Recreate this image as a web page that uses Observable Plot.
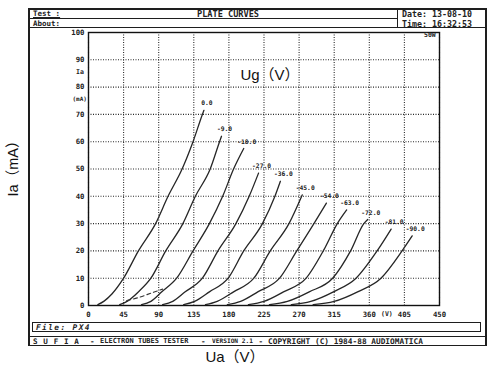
<!DOCTYPE html>
<html><head><meta charset="utf-8">
<script src="https://cdn.jsdelivr.net/npm/d3@7"></script>
<script src="https://cdn.jsdelivr.net/npm/@observablehq/plot@0.6"></script>
<style>
body{margin:0;background:#fff;}
#wrap{position:relative;width:500px;height:373px;overflow:hidden;background:#fff;}
#wrap svg{position:absolute;left:0;top:0;}
.t{position:absolute;font-family:"DejaVu Sans Mono",monospace;font-weight:bold;color:#222;white-space:pre;line-height:1;}
.ln{position:absolute;background:#1e1e1e;}
.big{position:absolute;font-family:"Liberation Sans","Noto Sans CJK SC",sans-serif;font-size:15px;color:#111;white-space:pre;line-height:1;}
</style></head><body><div id="wrap"></div>
<script>
// ---- data ----
const uaTicks = [0, 45, 90, 135, 180, 225, 270, 315, 360, 405, 450];
const iaTicks = [0, 10, 20, 30, 40, 50, 60, 70, 80, 90, 100];
const gridLabels = ["0.0", "-9.0", "-18.0", "-27.0", "-36.0", "-45.0", "-54.0", "-63.0", "-72.0", "-81.0", "-90.0"];
// [Ua (V), Ia (mA)] points for each grid voltage
const ug0   = [[12,0.3],[20,1.6],[30,4.2],[45,10],[64,20],[86,30],[102,40],[120,50],[134,60],[146,70],[148,71.5]];
const ug9   = [[40,0.3],[50,1.6],[64,5],[80,10],[99,20],[121,30],[137,40],[156,50],[168,60],[170.5,62]];
const ug18  = [[68,0.3],[80,1.5],[94,5],[113,10],[134,20],[155,30],[172,40],[186,50],[199,57.5]];
const ug27  = [[95,0.3],[108,1.5],[124,5],[146,10],[166,20],[189,30],[206,40],[218,48.5]];
const ug36  = [[122,0.3],[136,1.5],[155,5],[179,10],[199,20],[223,30],[239,40],[246,45.5]];
const ug45  = [[150,0.3],[165,1.5],[186,5],[212,10],[233,20],[257,30],[274,40.5]];
const ug54  = [[178,0.3],[195,1.5],[217,5],[245,10],[267,20],[289,30],[305,37.5]];
const ug63  = [[205,0.3],[225,1.5],[250,5],[279,10],[301,20],[319,30],[331,35]];
const ug72  = [[232,0.3],[255,1.5],[283,5],[313,10],[336,20],[353,30],[358,31.5]];
const ug81  = [[260,0.3],[285,1.5],[314,5],[343,10],[370,20],[388,28]];
const ug90  = [[288,0.3],[315,1.5],[345,5],[375,10],[402,20],[415,25.5]];
const dashedTrace = [[49,1.8],[65,3],[80,4.5],[95,6]];

const series = [ug0, ug9, ug18, ug27, ug36, ug45, ug54, ug63, ug72, ug81, ug90];
const rows = series.flatMap((pts, i) => pts.map(([ua, ia]) => ({ua, ia, ug: gridLabels[i]})));
const ends = series.map((pts, i) => ({ua: pts[pts.length-1][0], ia: pts[pts.length-1][1], ug: gridLabels[i]}));
const dashRows = dashedTrace.map(([ua, ia]) => ({ua, ia}));

const mono = "DejaVu Sans Mono, monospace";
const chart = Plot.plot({
  width: 500, height: 373,
  marginLeft: 88, marginRight: 61, marginTop: 32, marginBottom: 68,
  style: {background: "transparent", fontFamily: mono, fontSize: "7.3px", fontWeight: "bold", color: "#222"},
  x: {domain: [0, 450], ticks: uaTicks, tickSize: 0, tickPadding: 6, label: null},
  y: {domain: [0, 100], ticks: iaTicks, tickSize: 0, tickPadding: 4, label: null},
  marks: [
    Plot.ruleX(uaTicks, {stroke: "#2a2a2a", strokeDasharray: "1,1.5", strokeWidth: 1.1}),
    Plot.ruleY(iaTicks, {stroke: "#2a2a2a", strokeDasharray: "1,1.5", strokeWidth: 1.1}),
    Plot.frame({stroke: "#111", strokeWidth: 1.4}),
    Plot.line(rows, {x: "ua", y: "ia", z: "ug", curve: "monotone-x", stroke: "#262626", strokeWidth: 1.3}),
    Plot.line(dashRows, {x: "ua", y: "ia", curve: "monotone-x", stroke: "#333", strokeWidth: 1.1, strokeDasharray: "4,3"}),
    Plot.text(ends, {x: "ua", y: "ia", text: "ug", dx: 3, dy: -7, fontSize: 6.3, fontWeight: "bold", fontFamily: mono, fill: "#222"}),
    Plot.text(["(V)"], {x: () => (uaTicks[8] + uaTicks[9]) / 2, y: () => 0, text: d => d, lineAnchor: "top", dy: 6, fontSize: 6.5, fontWeight: "bold", fontFamily: mono, fill: "#222"})
  ]
});
const wrap = document.getElementById("wrap");
wrap.appendChild(chart);

// ---- decorative frame of the tester printout ----
function hl(x1, x2, y, w=1.3){const d=document.createElement("div");d.className="ln";Object.assign(d.style,{left:x1+"px",top:y+"px",width:(x2-x1)+"px",height:w+"px"});wrap.appendChild(d);}
function vl(x, y1, y2, w=1.3){const d=document.createElement("div");d.className="ln";Object.assign(d.style,{left:x+"px",top:y1+"px",width:w+"px",height:(y2-y1)+"px"});wrap.appendChild(d);}
function tx(s, x, y, size, extra={}){const d=document.createElement("div");d.className="t";d.textContent=s;Object.assign(d.style,{left:x+"px",top:y+"px",fontSize:size+"px"},extra);wrap.appendChild(d);return d;}
function big(s, x, y, extra={}){const d=document.createElement("div");d.className="big";d.textContent=s;Object.assign(d.style,{left:x+"px",top:y+"px"},extra);wrap.appendChild(d);return d;}

hl(28, 486, 8, 1.5); hl(28, 397, 18, 1); hl(28, 486, 27, 1.3); vl(397, 8, 27.5, 1.2);
vl(28, 8, 345.5, 1.6); vl(485, 8, 345.5, 1.6);
hl(32, 480, 322, 1); hl(32, 480, 331, 1.3); vl(32, 322, 332, 1); vl(480, 322, 332, 1);
hl(28, 486, 336, 1.3); hl(28, 486, 344.5, 1.5);

tx("Test :", 33, 10, 7.5, {textDecoration: "underline"});
tx("About:", 33, 19.5, 7.5);
tx("PLATE CURVES", 228, 10, 8.6, {transform: "translateX(-50%)", textDecoration: "underline"});
tx("Date: 13-08-10", 402, 10, 8.3);
tx("Time: 16:32:53", 402, 19.5, 8.3);
tx("50W", 424, 31.5, 6.5);
tx("Ia", 76, 68.5, 6.5);
tx("(mA)", 72.5, 95.5, 6);
tx("File: PX4", 36, 323.5, 7.8, {letterSpacing: "1.4px", fontStyle: "italic"});
tx("S U F I A", 33, 337.5, 7.6, {letterSpacing: "0.6px"});
tx("-", 90, 337.5, 7.6);
tx("ELECTRON TUBES TESTER", 100, 337.5, 7.0);
tx("-", 201, 337.5, 7.6);
tx("VERSION 2.1", 212, 338, 6.2);
tx("-", 258.5, 337.5, 7.6);
tx("COPYRIGHT (C) 1984-88 AUDIOMATICA", 268, 337.5, 7.8);

big("Ug（V）", 270, 67, {transform: "translateX(-50%)"});
big("Ua（V）", 235, 349, {transform: "translateX(-50%)"});
big("Ia（mA）", 13, 165, {transform: "translate(-50%,-50%) rotate(-90deg)", fontSize: "14.5px"});
</script></body></html>
